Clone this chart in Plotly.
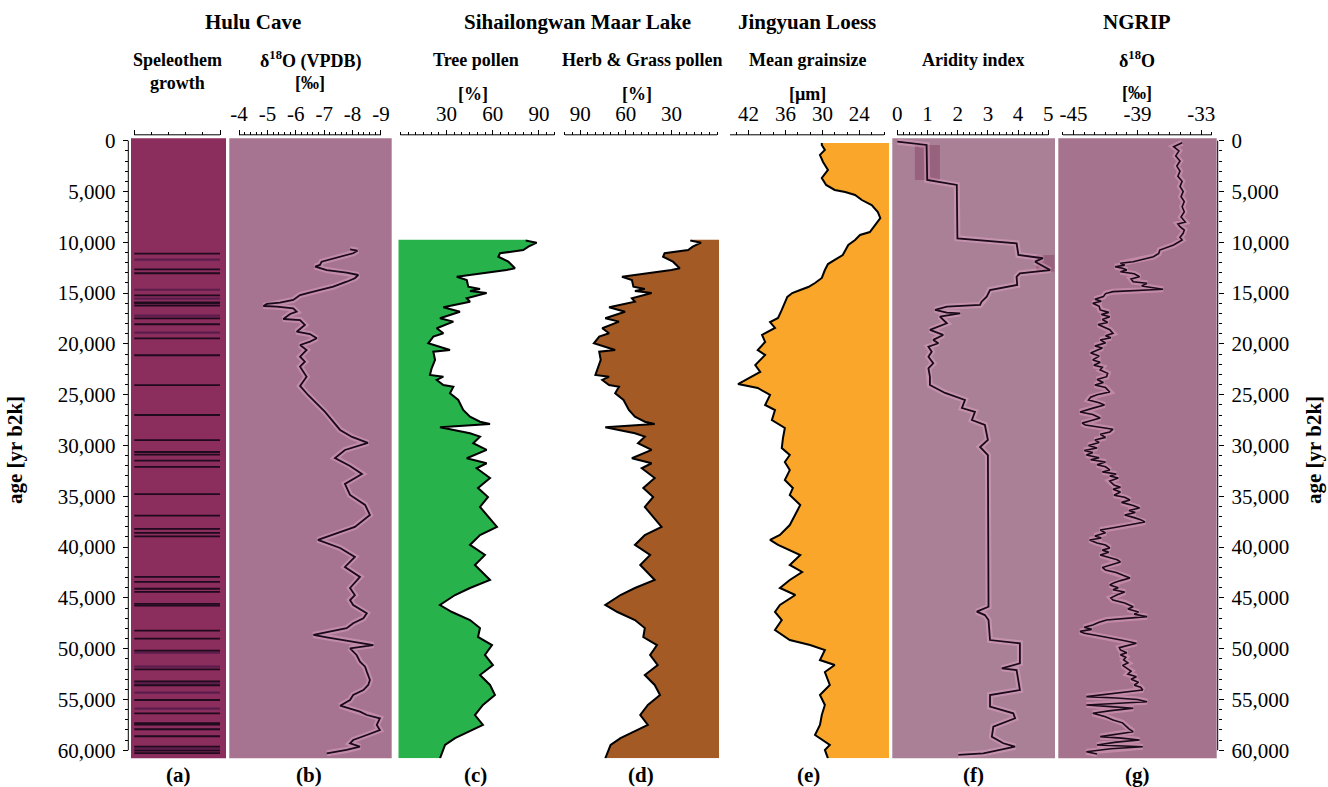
import plotly.graph_objects as go

# ---------------------------------------------------------------- data
# (a) Hulu Cave speleothem growth horizons [yr b2k]
growth_strong = [11120, 12660, 13050, 15220, 15910, 16000, 16240, 17480, 18070,
                 19450, 21120, 24050, 27000, 29470, 30640, 30900, 31500, 32100,
                 34780, 36900, 38200, 38600, 38950, 42940, 43430, 44100, 44400,
                 45600, 45770, 48230, 49020, 50200, 52030, 53210, 53600, 55050,
                 56360, 57340, 57480, 57930, 58620, 59650, 60040, 60290]
growth_faint = [11710, 14670, 15550, 17220, 18900, 50390, 51770, 53410, 54330,
                55900, 59840]

# (b) Hulu Cave speleothem d18O [permil VPDB]
hulu_age = [10690, 10830, 11080, 11250, 11570, 11910, 12230, 12400, 12730, 12990,
            13220, 13540, 13880, 14370, 14860, 15190, 15680, 15940, 16070, 16270,
            16340, 16500, 16830, 17060, 17550, 17650, 18140, 18800, 19030, 19450,
            19780, 20110, 20600, 21260, 21750, 22240, 23230, 24140, 25030, 26700,
            28470, 29160, 29750, 30440, 31230, 32010, 32800, 33780, 34870, 35850,
            36840, 38020, 39300, 40090, 40970, 41960, 42940, 44030, 44720, 45210,
            45700, 46520, 47010, 47500, 47990, 48480, 48650, 48880, 49310, 49640,
            49960, 50620, 51280, 51770, 52260, 53080, 53570, 54070, 54560, 55050,
            55610, 56020, 56200, 56530, 56850, 57510, 58010, 58500, 58990, 59310,
            59650, 59970, 60300]
hulu_d18o = [-7.91, -8.17, -8.02, -7.79, -7.32, -6.91, -6.85, -6.68, -7.09, -7.79,
             -8.20, -8.08, -7.79, -7.32, -6.62, -6.15, -5.91, -5.44, -4.98, -4.86,
             -5.33, -5.91, -6.03, -5.80, -5.56, -6.15, -6.32, -6.03, -6.50, -6.74,
             -6.50, -6.15, -6.38, -6.15, -6.32, -6.15, -6.38, -6.15, -6.43, -7.03,
             -7.56, -7.98, -8.54, -7.73, -7.38, -7.91, -8.33, -7.73, -7.91, -8.44,
             -8.61, -8.08, -6.78, -7.56, -8.08, -7.73, -8.26, -7.91, -8.08, -7.91,
             -8.02, -8.50, -8.38, -8.02, -7.79, -6.85, -6.62, -7.09, -8.02, -8.73,
             -7.91, -8.14, -8.26, -8.44, -8.50, -8.61, -8.55, -8.38, -8.02, -7.91,
             -7.56, -8.02, -8.26, -8.50, -8.96, -8.85, -8.96, -8.50, -8.02, -7.91,
             -8.26, -7.79, -7.09]

# (c) Sihailongwan tree pollen [%]
tree_age = [9740, 9840, 10040, 10430, 10760, 11080, 11420, 11910, 12560, 12730,
            13390, 13710, 14370, 14600, 14790, 14990, 15510, 15850, 16400, 16830,
            17480, 17810, 18460, 18960, 19290, 19940, 20600, 20770, 21580, 22400,
            23060, 23230, 23550, 24050, 24210, 24860, 25520, 26510, 27170, 27660,
            27880, 28210, 28800, 29130, 29780, 30440, 31260, 31750, 32240, 33200,
            34180, 35070, 36050, 38020, 38810, 39790, 40780, 41760, 43240, 44030,
            44720, 45700, 46390, 47180, 47970, 48850, 49640, 50620, 51610, 52590,
            53570, 54560, 55540, 56530, 57510, 58800, 59480, 60790]
tree_pct = [82.0, 82.0, 88.5, 83.1, 79.8, 64.7, 63.6, 70.1, 74.4, 69.0,
            36.6, 43.1, 44.1, 51.7, 45.2, 56.0, 43.1, 45.2, 27.9, 38.7,
            25.7, 34.4, 23.6, 27.9, 21.4, 18.1, 32.2, 21.4, 22.5, 20.3,
            19.2, 27.9, 23.6, 27.9, 34.4, 32.2, 37.6, 40.8, 45.2, 51.7,
            58.2, 25.7, 45.2, 51.7, 47.3, 56.0, 43.1, 56.0, 49.5, 58.2,
            50.4, 56.9, 51.7, 62.7, 51.7, 45.2, 54.9, 48.4, 58.2, 45.2,
            35.5, 25.7, 33.5, 45.2, 51.7, 50.4, 59.5, 54.9, 60.1, 51.7,
            58.2, 61.4, 53.6, 48.4, 53.6, 35.5, 29.0, 25.7]

# (d) Sihailongwan herb & grass pollen [%]
herb_age = tree_age
herb_pct = [17.0, 17.0, 10.5, 16.0, 19.0, 34.5, 35.5, 29.0, 24.5, 30.0,
            62.5, 56.0, 55.0, 47.5, 54.0, 43.0, 56.0, 54.0, 71.0, 60.5,
            73.5, 64.5, 75.5, 71.0, 77.5, 81.0, 67.0, 77.5, 76.5, 78.5,
            80.0, 71.0, 75.5, 71.0, 64.5, 67.0, 61.5, 58.0, 54.0, 47.5,
            41.0, 73.5, 54.0, 47.5, 52.0, 43.0, 56.0, 43.0, 49.5, 41.0,
            48.5, 42.0, 47.5, 36.5, 47.5, 54.0, 44.0, 50.5, 41.0, 54.0,
            63.5, 73.5, 65.5, 54.0, 47.5, 48.5, 39.5, 44.0, 39.0, 47.5,
            41.0, 37.5, 45.5, 50.5, 45.5, 63.5, 70.0, 73.5]

# (e) Jingyuan loess mean grain size [um]
grain_age = [230, 420, 910, 1400, 2100, 2880, 3670, 4360, 4850, 5050,
             5340, 5840, 6330, 7020, 7610, 8300, 8990, 9280, 9770, 10270,
             11250, 11740, 12140, 12730, 13510, 14010, 14400, 14700, 15000, 15380,
             15880, 16660, 17450, 17850, 18430, 19120, 19810, 20600, 21090, 22080,
             22760, 23550, 23950, 24340, 25030, 26010, 26510, 27490, 28280, 29260,
             30250, 30940, 31630, 32420, 33400, 34190, 34870, 35860, 36840, 37830,
             38810, 39300, 39790, 40290, 40780, 41760, 42450, 43240, 44030, 44720,
             45700, 46390, 47180, 48160, 49150, 49640, 50130, 51120, 51610, 52300,
             53570, 54560, 55540, 56530, 57510, 58500, 59480, 59970, 60790]
grain_um = [30.1, 30.1, 29.6, 30.4, 29.9, 29.1, 30.1, 29.4, 28.0, 26.3,
            24.7, 23.6, 22.0, 21.0, 20.6, 21.5, 22.3, 23.9, 24.7, 25.8,
            26.7, 28.0, 29.1, 29.6, 30.1, 31.2, 32.3, 33.6, 34.9, 35.7,
            36.1, 36.6, 37.2, 38.5, 37.7, 39.8, 39.3, 40.5, 39.3, 40.9,
            40.1, 42.6, 43.7, 40.5, 38.5, 39.3, 37.7, 38.2, 36.1, 36.4,
            36.6, 35.3, 36.1, 35.3, 36.1, 34.8, 35.3, 33.6, 34.4, 35.3,
            36.9, 38.5, 37.2, 35.3, 33.6, 35.3, 33.3, 35.3, 36.9, 34.4,
            36.9, 37.7, 36.6, 37.7, 35.3, 32.0, 29.6, 30.4, 28.0, 29.6,
            28.8, 30.4, 29.6, 30.1, 30.4, 31.2, 28.8, 29.6, 29.1]

# (f) Jingyuan aridity index
arid_age = [100, 420, 3870, 4360, 9610, 10100, 11250, 11570, 11910, 12730,
            13050, 13390, 14200, 14700, 15350, 15850, 16170, 16340, 16660, 16930,
            16990, 17320, 17970, 18630, 19120, 19610, 19940, 20280, 20770, 21260,
            21910, 22400, 23230, 24050, 24830, 25520, 26310, 26700, 27490, 27980,
            29460, 30150, 30940, 45210, 45870, 46360, 46690, 47180, 49150, 49470,
            51440, 51930, 52100, 54070, 54560, 55710, 56360, 56850, 57680, 58660,
            59310, 59650, 60300, 60460]
arid_idx = [0.00, 0.97, 0.99, 1.97, 1.99, 3.95, 4.01, 4.82, 4.56, 5.06,
            4.06, 3.95, 3.97, 3.07, 2.96, 2.79, 2.74, 1.64, 1.25, 1.64,
            2.08, 1.41, 1.64, 1.08, 1.52, 1.19, 1.36, 1.03, 1.14, 1.03,
            1.19, 1.03, 1.08, 1.08, 1.58, 2.24, 2.14, 2.57, 2.47, 2.90,
            3.00, 2.74, 3.00, 3.00, 3.02, 2.63, 2.90, 3.02, 3.07, 4.06,
            4.06, 3.46, 3.95, 4.06, 3.07, 3.07, 3.84, 3.90, 3.18, 3.13,
            3.51, 3.90, 2.85, 2.02]

# (g) NGRIP ice core d18O [permil]
ngrip_age = [200, 590, 1000, 1500, 2000, 2500, 3000, 3500, 4000, 4500,
             5000, 5500, 6000, 6500, 7000, 7500, 8000, 8200, 8460, 8800,
             9110, 9500, 9770, 10270, 10760, 11100, 11420, 11700, 11910, 12070,
             12250, 12400, 12550, 12730, 12900, 13100, 13390, 13600, 13880, 14040,
             14300, 14630, 14760, 14860, 15050, 15350, 15600, 15800, 16000, 16300,
             16660, 16900, 17100, 17320, 17600, 17900, 18100, 18310, 18600, 18960,
             19200, 19400, 19610, 19900, 20200, 20400, 20600, 20900, 21200, 21580,
             21800, 22100, 22300, 22560, 22900, 23230, 23500, 23800, 24050, 24300,
             24730, 25000, 25250, 25520, 25800, 26010, 26300, 26500, 26700, 26950,
             27290, 27600, 27800, 27980, 28200, 28400, 28670, 28900, 29200, 29460,
             29700, 30000, 30250, 30500, 30700, 30940, 31200, 31400, 31630, 31900,
             32100, 32410, 32600, 32800, 33000, 33200, 33500, 33890, 34100, 34300,
             34580, 34900, 35100, 35370, 35600, 35900, 36150, 36400, 36600, 36840,
             37100, 37300, 37530, 37800, 38050, 38320, 38600, 38900, 39100, 39300,
             39600, 39800, 40090, 40300, 40500, 40780, 41000, 41250, 41470, 41700,
             42000, 42260, 42500, 42800, 43040, 43300, 43500, 43730, 44000, 44200,
             44420, 44700, 45000, 45210, 45500, 45870, 46100, 46400, 46600, 46850,
             47000, 47180, 47400, 47670, 47900, 48100, 48300, 48480, 48700, 48980,
             49200, 49470, 49700, 49900, 50130, 50400, 50600, 50850, 51110, 51400,
             51650, 51930, 52200, 52500, 52760, 53000, 53300, 53600, 53800, 54070,
             54250, 54390, 54550, 54720, 54850, 55000, 55220, 55350, 55540, 55700,
             55870, 56100, 56360, 56700, 57020, 57300, 57680, 57900, 58170, 58400,
             58660, 58800, 58990, 59200, 59480, 59650, 59850, 60140, 60370]
ngrip_d18o = [-34.8, -35.6, -35.1, -35.4, -35.0, -35.3, -35.0, -35.2, -34.8, -35.0,
              -34.7, -34.9, -34.6, -34.8, -34.6, -34.9, -34.5, -35.2, -35.0, -34.6,
              -34.7, -35.0, -34.8, -35.6, -36.9, -37.0, -37.5, -38.6, -39.4, -40.6,
              -40.2, -41.1, -40.4, -40.0, -40.6, -39.3, -38.8, -39.6, -39.4, -38.1,
              -38.6, -36.6, -39.5, -41.3, -42.0, -42.2, -43.0, -42.4, -43.2, -42.6,
              -42.5, -41.7, -42.4, -41.6, -42.3, -41.8, -42.7, -42.2, -41.6, -41.3,
              -42.0, -41.5, -42.5, -42.0, -43.0, -42.3, -42.8, -43.4, -42.6, -43.2,
              -42.5, -43.1, -42.3, -42.5, -41.8, -41.9, -42.8, -42.2, -43.0, -42.0,
              -41.6, -42.8, -43.4, -43.6, -42.6, -42.1, -43.1, -43.8, -44.4, -43.2,
              -42.5, -43.5, -44.2, -43.9, -42.6, -41.3, -41.6, -42.5, -42.0, -43.0,
              -42.6, -43.6, -42.8, -44.0, -43.2, -43.8, -42.6, -43.4, -42.0, -42.8,
              -42.0, -41.6, -42.3, -41.0, -41.6, -40.8, -41.6, -41.2, -40.6, -41.3,
              -40.6, -41.2, -40.2, -39.7, -40.5, -39.4, -38.8, -39.8, -39.2, -40.2,
              -39.3, -38.7, -38.3, -39.6, -41.0, -42.5, -42.0, -43.0, -42.4, -43.5,
              -42.8, -42.0, -41.6, -42.3, -41.7, -42.5, -41.8, -40.9, -40.6, -41.4,
              -42.3, -42.0, -41.0, -40.3, -39.7, -40.6, -41.2, -41.6, -40.8, -41.3,
              -40.2, -40.9, -41.5, -41.3, -40.2, -39.4, -39.9, -38.9, -39.3, -38.1,
              -39.8, -41.9, -42.6, -43.2, -44.0, -43.3, -44.4, -44.0, -42.8, -41.3,
              -40.3, -39.1, -40.0, -40.7, -40.6, -40.0, -40.6, -40.1, -40.3, -39.9,
              -40.4, -40.0, -39.6, -39.9, -39.1, -39.6, -38.9, -39.3, -38.7, -38.5,
              -40.0, -41.3, -42.8, -43.8, -41.0, -39.0, -38.1, -40.5, -43.8, -41.5,
              -39.4, -41.5, -43.2, -42.0, -41.3, -40.4, -40.0, -39.8, -39.4, -41.0,
              -42.5, -40.5, -38.8, -41.0, -42.8, -38.5, -41.5, -43.8, -42.8]

# ---------------------------------------------------------------- layout helpers
W, H = 1328, 787
SERIF = "Liberation Serif"


def fx(p):
    return p / W


def fy(p):
    return 1 - p / H


AGE_TOP, AGE_BOTTOM = -235, 60790
Y_DOMAIN = [fy(758.3), fy(138.3)]
AXIS_Y = fy(134.8)

C_GROWTH_BG = "#8B2D5D"
C_HULU_BG = "#A67491"
C_ARID_BG = "#AA8097"
C_NGRIP_BG = "#A5738D"
C_TREE = "#28B24B"
C_HERB = "#A35A25"
C_GRAIN = "#F9A62A"
C_HALO = "rgba(236,172,206,0.42)"
C_CURVE = "#1a0a1a"


def frange(a, b, step):
    n = int(round((b - a) / step))
    return [round(a + i * step, 6) for i in range(n + 1)]


# per-panel x axes: pixel extent, value range, bracket span, ticks
panels = [
    dict(px=(131.0, 226.0), rng=[-0.19, 5.35], span=(0, 5),
         tv=[0, 5], tt=None, minor=frange(1, 4, 1)),
    dict(px=(229.3, 391.7), rng=[-3.658, -9.377], span=(-4, -9),
         tv=[-4, -5, -6, -7, -8, -9], tt=["-4", "-5", "-6", "-7", "-8", "-9"],
         minor=frange(-9, -4, 0.2)),
    dict(px=(398.3, 555.0), rng=[-1.36, 100.4], span=(0, 100),
         tv=[30, 60, 90], tt=["30", "60", "90"], minor=frange(0, 100, 5)),
    dict(px=(562.0, 719.0), rng=[101.97, -1.3], span=(100, 0),
         tv=[90, 60, 30], tt=["90", "60", "30"], minor=frange(0, 100, 5)),
    dict(px=(727.0, 889.0), rng=[45.49, 19.19], span=(45, 20),
         tv=[42, 36, 30, 24], tt=["42", "36", "30", "24"], minor=frange(20, 44, 2)),
    dict(px=(892.3, 1055.0), rng=[-0.166, 5.222], span=(0, 5),
         tv=[0, 1, 2, 3, 4, 5], tt=["0", "1", "2", "3", "4", "5"],
         minor=frange(0, 5, 0.2)),
    dict(px=(1058.3, 1216.7), rng=[-46.44, -31.55], span=(-46, -32),
         tv=[-45, -39, -33], tt=["-45", "-39", "-33"], minor=frange(-46, -32, 1)),
]
bgs = [C_GROWTH_BG, C_HULU_BG, None, None, None, C_ARID_BG, C_NGRIP_BG]

fig = go.Figure()
layout = dict(
    width=W, height=H, margin=dict(l=0, r=0, t=0, b=0, pad=0),
    paper_bgcolor="white", plot_bgcolor="rgba(0,0,0,0)",
    showlegend=False, font=dict(family=SERIF, color="black", size=21),
)
shapes, annotations = [], []

for i, p in enumerate(panels):
    n = i + 1
    key = "xaxis" if n == 1 else f"xaxis{n}"
    ax = dict(
        domain=[fx(p["px"][0]), fx(p["px"][1])], range=p["rng"],
        anchor="free", position=AXIS_Y, side="top", automargin=False,
        showgrid=False, zeroline=False, showline=False,
        tickmode="array", tickvals=p["tv"],
        ticks="outside", ticklen=5, tickwidth=1, tickcolor="black",
        tickfont=dict(family=SERIF, size=21, color="black"),
        minor=dict(tickmode="array", tickvals=p["minor"], ticks="outside",
                   ticklen=2.5, tickwidth=1, tickcolor="black"),
    )
    if p["tt"] is None:
        ax["showticklabels"] = False
    else:
        ax["ticktext"] = p["tt"]
    layout[key] = ax
    xr = "x" if n == 1 else f"x{n}"
    # bracket-style axis line
    shapes.append(dict(type="line", xref=xr, yref="paper",
                       x0=p["span"][0], x1=p["span"][1], y0=AXIS_Y, y1=AXIS_Y,
                       line=dict(color="black", width=1)))
    if bgs[i]:
        shapes.append(dict(type="rect", xref=f"{xr} domain", yref="y domain",
                           x0=0, x1=1, y0=0, y1=1, layer="below",
                           fillcolor=bgs[i], line=dict(width=0)))

layout["yaxis"] = dict(
    domain=Y_DOMAIN, range=[AGE_BOTTOM, AGE_TOP], anchor="free", position=fx(128.3),
    side="left", automargin=False, showgrid=False, zeroline=False, showline=False,
    tickmode="linear", tick0=0, dtick=5000, tickformat=",d",
    ticks="outside", ticklen=5.5, tickwidth=1, tickcolor="black",
    tickfont=dict(family=SERIF, size=21, color="black"), ticklabelstandoff=3,
    minor=dict(ticks="outside", dtick=1000, tick0=0, ticklen=3, tickwidth=1,
               tickcolor="black"),
)
layout["yaxis2"] = dict(layout["yaxis"])
layout["yaxis2"].update(overlaying="y", side="right", position=fx(1217.7),
                        minor=dict(ticks="outside", dtick=1000, tick0=0, ticklen=3,
                                   tickwidth=1, tickcolor="black"))
for xpos in (128.3, 1217.7):
    shapes.append(dict(type="line", xref="paper", yref="y", x0=fx(xpos), x1=fx(xpos),
                       y0=0, y1=60000, line=dict(color="black", width=1)))

fig.add_trace(go.Scatter(x=[None], y=[None], xaxis="x7", yaxis="y2",
                         hoverinfo="skip"))


# (a) growth horizons
def horizon_trace(ages, color, width):
    xs, ys = [], []
    for a in ages:
        xs += [0, 5, None]
        ys += [a, a, None]
    return go.Scatter(x=xs, y=ys, mode="lines", xaxis="x", yaxis="y",
                      line=dict(color=color, width=width), hoverinfo="skip")


fig.add_trace(horizon_trace(growth_faint, "#5B1E4C", 2.2))
fig.add_trace(horizon_trace(growth_strong, "#1F0A1E", 1.8))


def curve(xs, ys, axis, halo=False, width=1.8):
    if halo:
        fig.add_trace(go.Scatter(x=xs, y=ys, mode="lines", xaxis=axis, yaxis="y",
                                 line=dict(color=C_HALO, width=6)))
    fig.add_trace(go.Scatter(x=xs, y=ys, mode="lines", xaxis=axis, yaxis="y",
                             line=dict(color=C_CURVE if halo else "black", width=width)))


def filled(xs, ys, edge, axis, color):
    fig.add_trace(go.Scatter(x=[edge] + xs + [edge], y=[ys[0]] + ys + [ys[-1]],
                             mode="lines", fill="toself", fillcolor=color,
                             line=dict(width=0), xaxis=axis, yaxis="y"))
    curve(xs, ys, axis, width=2)


# (b) Hulu d18O
curve(hulu_d18o, hulu_age, "x2", halo=True)

# (c) tree pollen filled from the left edge, (d)/(e) filled to the right edge
filled(tree_pct, tree_age, panels[2]["rng"][0], "x3", C_TREE)
filled(herb_pct, herb_age, panels[3]["rng"][1], "x4", C_HERB)
filled(grain_um, grain_age, panels[4]["rng"][1], "x5", C_GRAIN)

# (f) aridity index with its uncertainty bands
shapes.append(dict(type="rect", xref="x6", yref="y", x0=0.58, x1=1.41, y0=420, y1=3870,
                   layer="below", fillcolor="#97627E", line=dict(width=0)))
shapes.append(dict(type="rect", xref="x6", yref="y", x0=4.6, x1=5.2, y0=11250, y1=12890,
                   layer="below", fillcolor="#97627E", line=dict(width=0)))
curve(arid_idx, arid_age, "x6", halo=True)

# (g) NGRIP d18O
curve(ngrip_d18o, ngrip_age, "x7", halo=True, width=1.6)


# ---------------------------------------------------------------- text
def label(x, y, text, size, bold=True, angle=0):
    annotations.append(dict(
        x=fx(x), y=fy(y), xref="paper", yref="paper", showarrow=False,
        text=f"<b>{text}</b>" if bold else text, textangle=angle,
        font=dict(family=SERIF, size=size, color="black"),
        xanchor="center", yanchor="middle"))


for x, t in [(253, "Hulu Cave"), (577, "Sihailongwan Maar Lake"),
             (807, "Jingyuan Loess"), (1137, "NGRIP")]:
    label(x, 22, t, 21)

label(177, 60, "Speleothem", 18)
label(177, 83, "growth", 18)
label(310, 60, "δ<sup>18</sup>O (VPDB)", 18)
label(310, 83, "[‰]", 18)
label(476, 60, "Tree pollen", 18)
label(473, 94, "[%]", 18)
label(642, 60, "Herb &amp; Grass pollen", 18)
label(637, 94, "[%]", 18)
label(807, 60, "Mean grainsize", 18)
label(807, 94, "[µm]", 18)
label(973, 60, "Aridity index", 18)
label(1137, 60, "δ<sup>18</sup>O", 18)
label(1137, 93, "[‰]", 18)

for x, t in [(178, "(a)"), (309, "(b)"), (475, "(c)"), (641, "(d)"),
             (808, "(e)"), (973, "(f)"), (1137, "(g)")]:
    label(x, 775, t, 21)

label(15, 450, "age [yr b2k]", 21, angle=-90)
label(1314, 450, "age [yr b2k]", 21, angle=-90)

layout["shapes"] = shapes
layout["annotations"] = annotations
fig.update_layout(**layout)
fig.write_html("out.html")
